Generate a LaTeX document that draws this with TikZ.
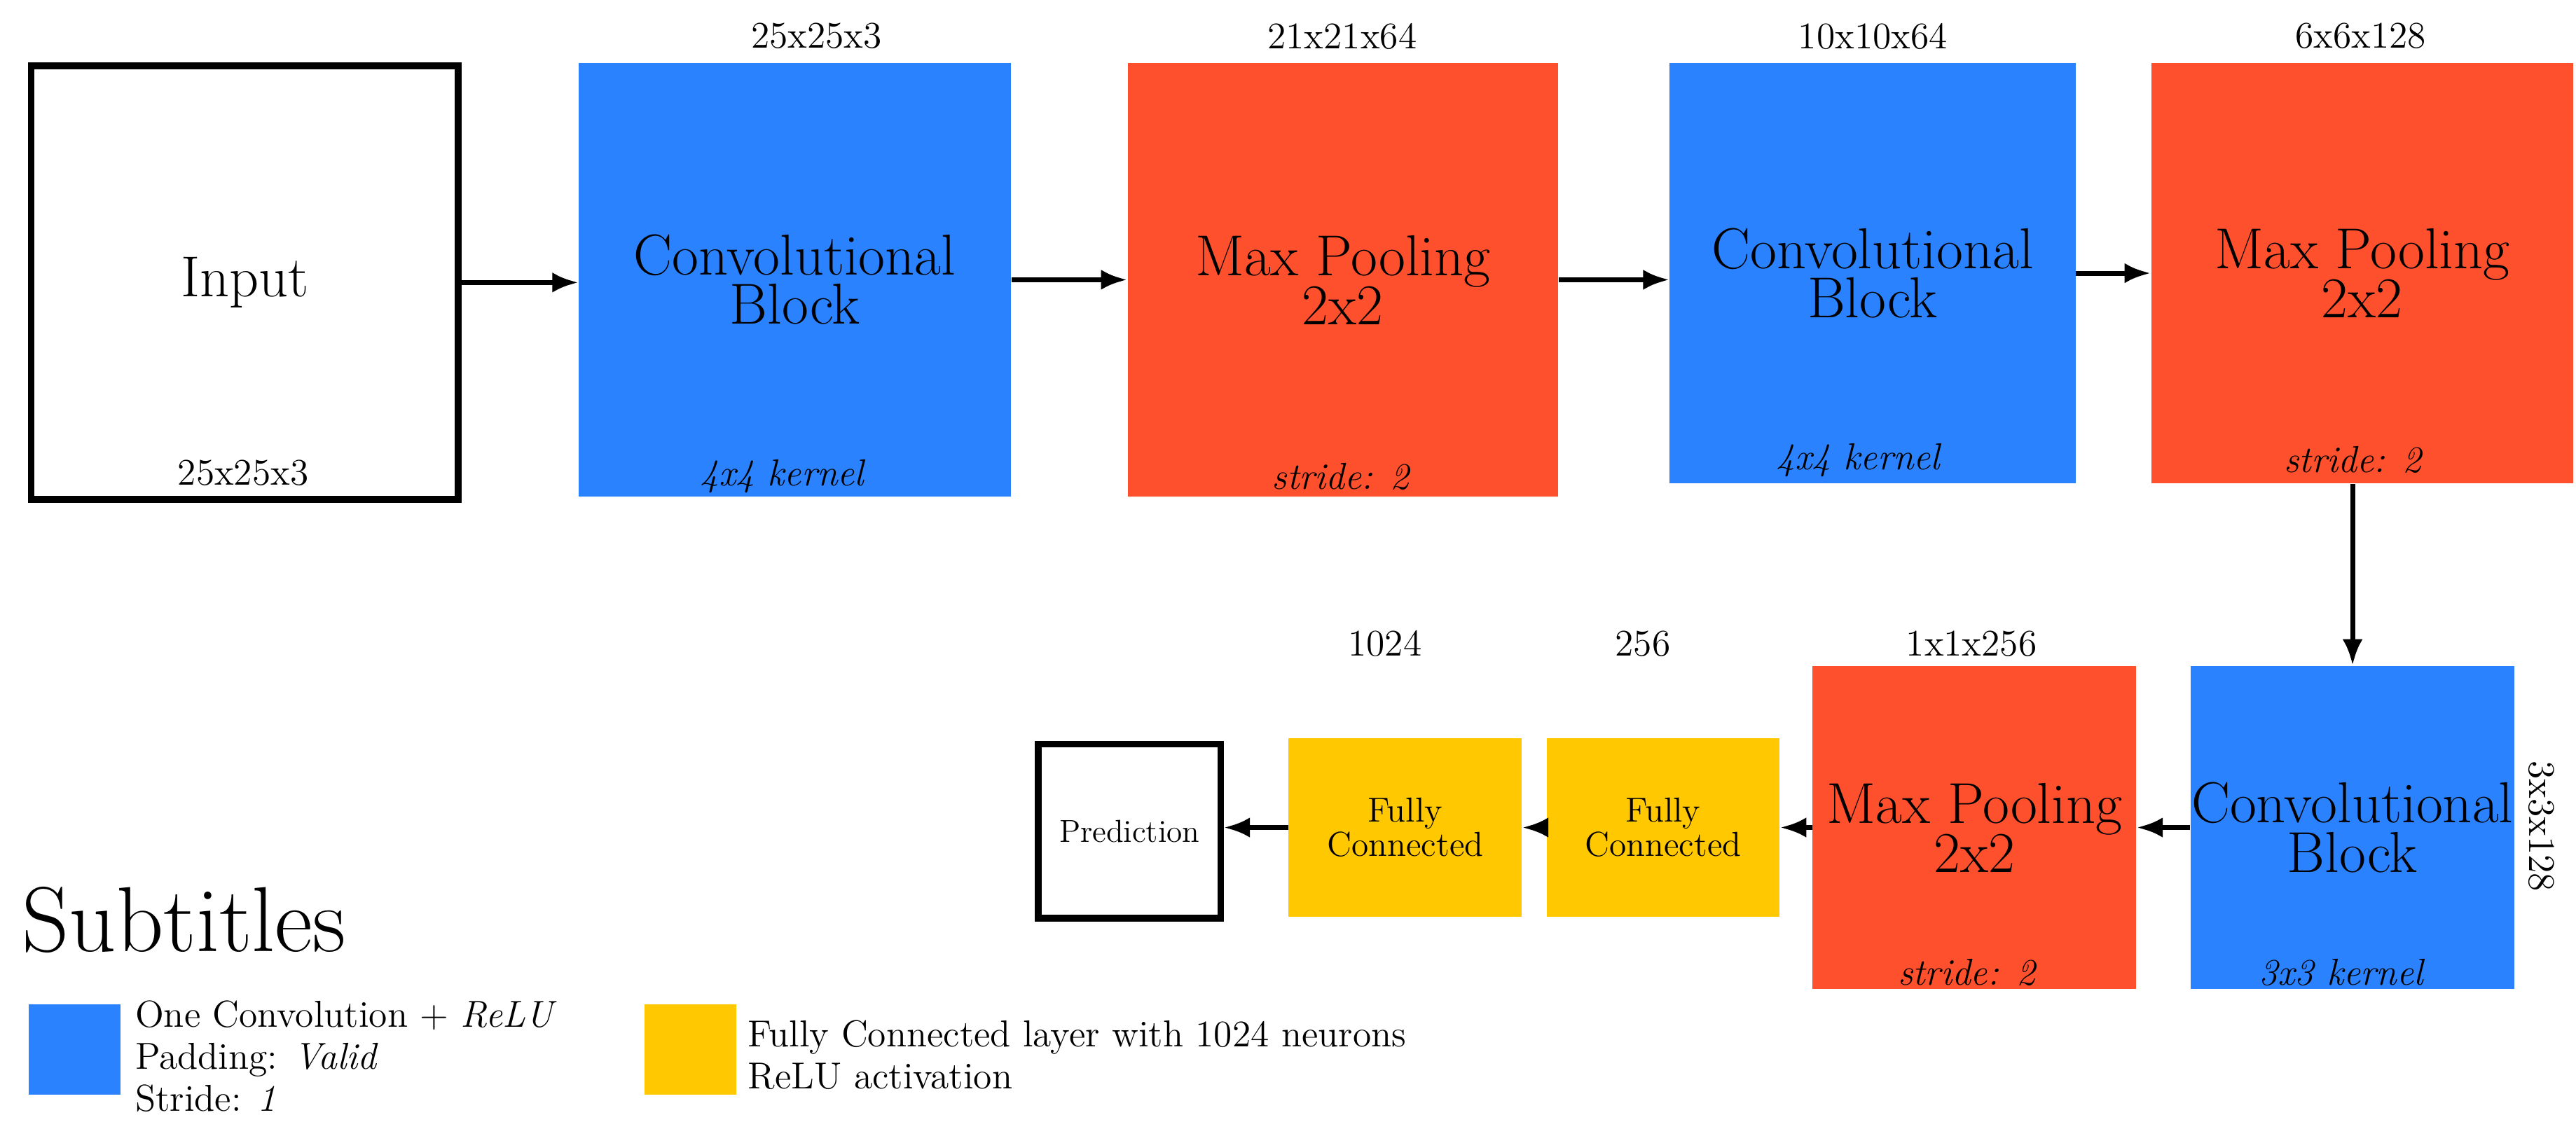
\documentclass[tikz,border=0pt]{standalone}
\usetikzlibrary{arrows.meta}
\definecolor{convblue}{RGB}{43,130,255}
\definecolor{poolred}{RGB}{255,80,45}
\definecolor{fcyellow}{RGB}{255,200,0}
\begin{document}
\begin{tikzpicture}[x=0.02cm,y=-0.02cm,
  blk/.style={anchor=north west,inner sep=0pt,align=center,font=\fontsize{20}{21}\selectfont},
  lbl/.style={font=\fontsize{13}{14}\selectfont,inner sep=0pt},
  note/.style={font=\fontsize{13}{14}\selectfont\itshape,inner sep=0pt},
  fc/.style={blk,fill=fcyellow,minimum width=2.84cm,minimum height=2.18cm,font=\fontsize{12}{12}\selectfont},
  arr/.style={-{Latex[length=9pt,width=7pt]},line width=1.7pt}]
\useasboundingbox (0,0) rectangle (1568,687);
% top row
\node[blk,draw,line width=2.3pt,minimum width=5.2cm,minimum height=5.28cm] (in) at (17,38) {Input};
\node[lbl] (indim) at (148,288) {25x25x3};

\node[blk,fill=convblue,minimum width=5.26cm,minimum height=5.28cm] (c1) at (352,38) {Convolutional\\[-4pt]Block};
\node[note] (c1n) at (476,290) {4x4 kernel};
\node[lbl] (c1d) at (497,22) {25x25x3};

\node[blk,fill=poolred,minimum width=5.24cm,minimum height=5.28cm] (p1) at (686,38) {Max Pooling\\[-4pt]2x2};
\node[note] (p1n) at (816,290) {stride: 2};
\node[lbl] (p1d) at (817,22) {21x21x64};

\node[blk,fill=convblue,minimum width=4.94cm,minimum height=5.12cm] (c2) at (1016,38) {Convolutional\\[-4pt]Block};
\node[note] (c2n) at (1131,280) {4x4 kernel};
\node[lbl] (c2d) at (1140,22) {10x10x64};

\node[blk,fill=poolred,minimum width=5.14cm,minimum height=5.12cm] (p2) at (1309,38) {Max Pooling\\[-4pt]2x2};
\node[note] (p2n) at (1432,280) {stride: 2};
\node[lbl] (p2d) at (1437,22) {6x6x128};

% bottom row
\node[blk,fill=convblue,minimum width=3.94cm,minimum height=3.94cm] (c3) at (1333,405) {Convolutional\\[-4pt]Block};
\node[note] (c3n) at (1425,592) {3x3 kernel};
\node[lbl,rotate=-90] (c3d) at (1547,503) {3x3x128};

\node[blk,fill=poolred,minimum width=3.94cm,minimum height=3.94cm] (p3) at (1103,405) {Max Pooling\\[-4pt]2x2};
\node[note] (p3n) at (1197,592) {stride: 2};
\node[lbl] (p3d) at (1200,392) {1x1x256};

\node[fc] (f2) at (941,449) {Fully\\Connected};
\node[lbl] (f2d) at (1000,392) {256};

\node[fc] (f1) at (784,449) {Fully\\Connected};
\node[lbl] (f1d) at (843,392) {1024};

\node[blk,draw,line width=2.3pt,minimum width=2.22cm,minimum height=2.12cm,font=\fontsize{11}{12}\selectfont] (pred) at (630,451) {Prediction};

% connectors
\draw[arr] (in.east) -- (in.east -| c1.west);
\draw[arr] (c1.east) -- (p1.west);
\draw[arr] (p1.east) -- (p1.east -| c2.west);
\draw[arr] (c2.east) -- (c2.east -| p2.west);
\draw[arr] (p2.south-|p2n) -- (c3.north-|p2n);
\draw[arr] (c3.west) -- (p3.east);
\draw[arr] (p3.west) -- (p3.west -| f2.east);
\draw[arr] (f2.west) -- (f1.east);
\draw[arr] (f1.west) -- (f1.west -| pred.east);

% legend
\node[anchor=west,font=\fontsize{32}{33}\selectfont,inner sep=0pt] (sub) at (13,560) {Subtitles};
\node[blk,fill=convblue,minimum width=1.12cm,minimum height=1.1cm] (lc) at (17,611) {};
\node[anchor=north west,align=left,font=\fontsize{13}{14.5}\selectfont,inner sep=0pt] (lct) at (82,609)
  {One Convolution + \textit{ReLU}\\Padding: \textit{Valid}\\Stride: \textit{1}};
\node[blk,fill=fcyellow,minimum width=1.12cm,minimum height=1.1cm] (lf) at (392,611) {};
\node[anchor=north west,align=left,font=\fontsize{13}{14.5}\selectfont,inner sep=0pt] (lft) at (455,621)
  {Fully Connected layer with 1024 neurons\\ReLU activation};
\end{tikzpicture}
\end{document}
